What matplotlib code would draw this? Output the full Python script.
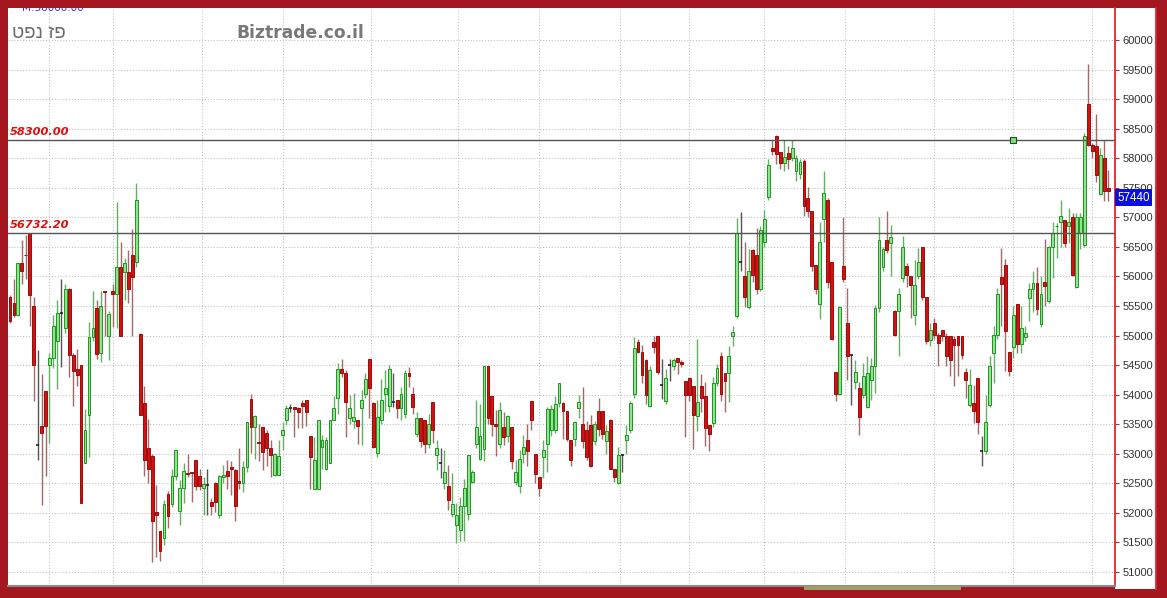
import matplotlib
matplotlib.use("Agg")
import matplotlib.pyplot as plt
from matplotlib.patches import Rectangle
from matplotlib.lines import Line2D
import numpy as np

# ---------------- data ----------------
open_ = [
    55650,55550,55350,56230,56370,56730,55500,53150,53470,54060,
    54510,54620,54900,55390,55120,55780,54670,54430,54510,52840,
    53660,54970,55460,54700,55760,55000,55760,55710,56160,56070,
    56070,56360,56240,55030,53860,53100,52970,52010,
    51700,51570,52320,52150,52620,52030,52430,52670,52700,52900,
    52620,52430,52470,52180,52510,51960,52610,52710,52770,52720,
    52540,52500,52770,53920,53460,53200,53450,53350,53090,52640,
    52640,53320,53580,53770,
    53800,53780,53860,53910,53300,52400,52400,53120,52740,52850,
    53580,53950,54430,54370,53600,53560,53570,53770,54020,54600,
    53860,53010,53570,54020,53810,53880,53910,53770,53680,54360,
    54010,53330,53600,53580,
    53160,53880,52980,52840,52510,52460,51990,51800,51710,52110,
    51990,52530,53160,52920,53080,54480,53970,53500,53170,53450,
    53300,53450,52530,52450,53000,53230,53900,52990,52610,52950,
    53170,53400,53400,53860,
    53860,53730,53230,53250,53780,53500,53400,53480,53210,53720,
    53730,53210,53580,52740,52500,52980,53230,53400,54010,54890,
    54730,54590,53810,54890,54990,54170,53900,54500,54490,54620,
    54550,54240,54280,54150,
    53640,54140,53980,53490,53520,54200,54650,54370,54370,55000,
    55330,56240,56000,55480,56440,56360,55790,56590,57340,58170,
    58380,58100,57920,58090,58000,57790,57730,57960,57320,57110,
    56190,55540,56980,57300,
    56250,54390,54020,56180,55220,54670,54210,54110,54000,53800,
    54250,54480,55460,56160,56610,56560,55410,55410,55970,56170,
    56000,55350,56000,56490,55650,54930,55210,55010,55090,55000,
    54990,54940,54990,54990,54380,
    53820,53860,54290,53040,53040,53830,54710,55010,55990,56200,
    54720,54810,55530,54850,54980,55630,55780,55890,55200,55900,
    55580,56500,56850,56920,56960,56850,57010,55820,56740,56540,
    58910,58230,58200,57400,58000,57500,
]
close = [
    55250,55350,56230,56090,56360,55680,54510,53150,53360,53470,
    54620,55160,55390,55390,55780,54670,54400,54340,52160,53400,
    54970,55120,54680,55500,55730,55370,55710,56160,55000,56230,
    55790,55990,57300,53650,52900,52740,51870,51960,
    51350,52150,51940,52620,53060,52430,52710,52660,52680,52450,
    52460,52490,52470,52120,52190,52630,52640,52620,52740,52110,
    52510,52770,53530,53460,53640,53180,53030,53090,52980,52990,
    52960,53400,53770,53770,
    53750,53710,53810,53710,52940,52900,53580,53230,53240,53580,
    53770,54430,54370,53880,53770,53620,53470,53910,54260,54120,
    53110,53630,53910,54110,54430,53880,53770,54010,54360,54310,
    53800,53600,53220,53170,
    53500,53410,53090,52840,52690,52220,52150,51970,52110,52420,
    52980,52700,53460,53300,54480,53600,53500,53470,53740,53290,
    53640,52880,52700,52910,53110,53040,53570,52660,52420,53060,
    53750,53750,53840,54190,
    53730,53250,52890,53540,53870,53210,52950,52800,53510,53420,
    53340,53380,52750,52610,52980,52980,53320,53860,54790,54730,
    54340,54000,54410,54800,54390,54170,54280,54500,54590,54550,
    54520,54000,54000,53650,
    53880,53940,53430,53340,54200,54450,54010,54240,54660,55060,
    56740,56240,55650,56100,56030,55790,56790,56980,57890,58130,
    58070,57920,58020,57980,58170,58000,57930,57200,57110,56180,
    55780,56580,57420,55900,
    54940,54020,55490,55950,54660,54670,54380,53630,54310,54370,
    54480,55460,56620,56460,56450,56670,55010,55710,56490,56030,
    55860,55860,56250,55650,54900,55100,55010,54880,55000,54650,
    54590,54840,54840,54670,54250,
    54160,53720,53530,53040,53530,54480,55010,55700,55870,55070,
    54400,55350,54850,55120,55040,55780,55890,55450,55700,55840,
    56500,56740,56860,57020,56560,56920,56030,57010,57010,58380,
    58230,58130,57720,58060,57440,57440,
]
high = [
    55680,55950,56230,56620,56700,56730,55650,54750,54350,54060,
    54700,55340,55610,55950,55880,55800,54700,54780,54510,53750,
    55230,55760,55600,55760,55760,55420,55880,57260,56580,56320,
    56440,56810,57580,55050,54150,53590,53000,52470,
    51700,52220,52370,52750,53070,52560,52840,53000,52700,52900,
    52750,52610,52750,52250,52520,52640,52810,52900,52880,52740,
    53100,52870,53540,54020,53660,53500,53450,53400,53230,53010,
    53230,53540,53820,53840,
    53800,53800,53910,53910,53300,53290,53580,53320,53290,53580,
    53980,54530,54610,54420,53990,54030,53570,54080,54370,54600,
    53880,53910,54270,54420,54500,54360,53910,54130,54420,54460,
    54130,53710,53600,53580,
    53680,53880,53230,53090,53060,52810,52670,52160,52270,52570,
    52980,52730,53910,53850,54480,54480,53970,53740,53880,53710,
    53650,53450,52900,53060,53320,53500,53900,52990,52610,53230,
    53800,53820,53970,54190,
    53880,53730,53230,53560,54000,54130,53560,53650,53560,53940,
    53730,53480,53590,52750,53110,53000,53480,53890,54970,54940,
    54840,54610,54490,54990,55000,54610,54440,54600,54620,54620,
    54580,54240,54300,54150,
    54940,54350,54210,53490,54300,54520,54720,54370,54830,55170,
    56990,57090,56580,56470,56470,56820,56860,57130,57990,58300,
    58390,58100,58300,58210,58300,58050,57990,57990,57510,57110,
    56190,56920,57790,57320,
    56250,54390,55500,57010,55800,54690,54590,54210,54530,54650,
    54620,55520,57010,56500,57100,56870,55430,55800,56680,56230,
    56000,56280,56480,56500,55660,55210,55290,55040,55100,55040,
    55000,54990,54990,54990,54450,
    54430,54160,54290,53300,54000,54650,55160,55810,56480,56290,
    54720,55500,55530,55500,55160,55890,56090,56160,56000,56640,
    56510,56920,56900,57300,56960,57160,57080,57080,57080,58420,
    59590,58260,58740,58180,58300,57800,
]
low = [
    55220,55320,55330,55870,55960,55170,53900,52900,52140,52630,
    53180,54450,54090,54470,55050,54300,53810,54140,52160,52840,
    52950,54900,54600,54560,55000,54580,55140,55120,55000,55600,
    55550,55000,56160,53650,52630,52500,51170,51250,
    51180,51460,51740,52100,52550,51800,52160,52600,52190,52390,
    52390,51970,51970,51970,52020,51910,52500,52400,52300,51870,
    52400,52360,52700,53010,52920,52870,52720,52800,52610,52620,
    52640,53060,53480,53700,
    53290,53430,53430,53470,52400,52400,52400,52750,52730,52850,
    53580,53670,54300,53290,53500,53430,53170,53150,53950,53600,
    53100,52950,53500,53710,53700,53800,53600,53580,53600,54130,
    53680,53280,53120,53010,
    53100,53180,52730,52590,52400,52050,51930,51490,51520,51520,
    51880,52500,53100,52900,52870,53500,53300,52960,53100,53150,
    53200,52750,52470,52330,52850,52800,53400,52500,52280,52590,
    52700,53300,53350,53800,
    53250,53220,52800,53140,53600,53100,52900,52780,53150,53300,
    53250,53000,52750,52530,52490,52700,53000,53350,53950,54700,
    54200,53850,53800,54700,54350,53930,53850,54240,54410,54350,
    54460,53280,53900,53080,
    53390,53700,53140,53050,53450,54150,53900,53700,53870,54830,
    55300,56100,55480,55450,55900,55700,55750,56500,57300,58050,
    57900,57820,57790,57820,57950,57620,57650,57020,57000,56100,
    55700,55280,56590,55800,
    54930,53890,54000,55900,54250,53830,54100,53320,53950,53780,
    53910,54030,55400,56100,56400,56000,55000,54660,55900,55830,
    55300,55180,55950,55600,54850,54820,54950,54480,54900,54480,
    54310,54150,54310,54600,53940,
    53800,53520,53330,52790,53000,53800,54200,54950,55160,54400,
    54320,54620,54700,54710,54900,55240,55400,55350,55150,55500,
    55550,55980,56310,56500,56500,56570,56000,55800,56460,56500,
    58200,58000,57600,57380,57270,57270,
]

# month boundaries (in candle index units) for vertical grid lines
month_breaks = [10, 26, 48.5, 69, 91.5, 113.5, 134, 154.5, 172, 191, 211.5, 234, 254, 274]
y_ticks = list(range(51000, 60001, 500))
level_lines = [58300.00, 56732.20]
level_labels = ["58300.00", "56732.20"]
anchor_idx = 254
last_price = 57440
title_he = "טפנ זפ"   # "פז נפט" in visual (left-to-right) order
brand = "Biztrade.co.il"
top_label = "M:58000.00"

# ---------------- figure ----------------
W, H = 1167, 598
border = "#a5171f"
fig = plt.figure(figsize=(W / 100, H / 100), dpi=100, facecolor=border)

def fx(px):
    return px / W

def fy(py):
    return 1 - py / H

ax = fig.add_axes([fx(8), fy(586), fx(1115) - fx(8), fy(8) - fy(586)])
ax.set_facecolor("white")

# white panel for the price scale
fig.patches.append(Rectangle((fx(1115), fy(589)), fx(1156) - fx(1115), fy(8) - fy(589),
                             transform=fig.transFigure, facecolor="white",
                             edgecolor="none", zorder=-1))
fig.lines.append(Line2D([fx(1155.5), fx(1155.5)], [fy(8), fy(589)],
                        transform=fig.transFigure, color="#e0262c", lw=1.3))

n = len(open_)
xs = np.arange(n)
o = np.array(open_, float)
c = np.array(close, float)
h = np.maximum(np.array(high, float), np.maximum(o, c))
l = np.minimum(np.array(low, float), np.minimum(o, c))

up = c > o
down = c < o
doji = c == o

g_fill, g_edge, g_wick = "#8de58d", "#239323", "#62b062"
r_fill, r_edge, r_wick = "#d01212", "#9b0d0d", "#a36a6a"

# wicks
ax.vlines(xs[up], l[up], h[up], color=g_wick, lw=1.0, zorder=2)
ax.vlines(xs[down], l[down], h[down], color=r_wick, lw=1.0, zorder=2)
ax.vlines(xs[doji], l[doji], h[doji], color="#555555", lw=1.0, zorder=2)

bw = 0.72
ax.bar(xs[up], (c - o)[up], bottom=o[up], width=bw, color=g_fill,
       edgecolor=g_edge, linewidth=0.7, zorder=3)
ax.bar(xs[down], (o - c)[down], bottom=c[down], width=bw, color=r_fill,
       edgecolor=r_edge, linewidth=0.7, zorder=3)
ax.hlines(c[doji], xs[doji] - bw / 2, xs[doji] + bw / 2, color="#222222", lw=1.2, zorder=3)

# horizontal level lines
for lv, lab in zip(level_lines, level_labels):
    ax.axhline(lv, color="#555555", lw=1.0, zorder=4)
    ax.annotate(lab, xy=(0.002, lv), xycoords=("axes fraction", "data"),
                xytext=(0, 2.5), textcoords="offset points", ha="left", va="bottom",
                color="#e01010", fontsize=8.2, fontweight="bold", fontstyle="italic",
                family=["DejaVu Sans"], zorder=5)

ax.plot([anchor_idx], [level_lines[0]], marker="s", markersize=4.5,
        markerfacecolor="#7ee07e", markeredgecolor="#1f4f1f", markeredgewidth=0.8,
        zorder=6, clip_on=False)

# limits (candle 1 at px 10, spacing ~3.95 px)
ax.set_xlim(-0.5, 279.75)
ax.set_ylim(50764, 60541)

# grid
ax.set_axisbelow(True)
ax.set_xticks(month_breaks)
ax.set_yticks(y_ticks)
ax.grid(True, color="#c4c4c4", linestyle=(0, (1, 1.6)), lw=0.8)
ax.tick_params(axis="x", length=0, labelbottom=False)
ax.yaxis.tick_right()
ax.tick_params(axis="y", direction="out", length=3, color="#d02020", width=0.8,
               pad=2.2, labelsize=8, labelcolor="#333333")
for t in ax.get_yticklabels():
    t.set_family(["Liberation Sans", "DejaVu Sans"])

for s in ["left", "top"]:
    ax.spines[s].set_visible(False)
ax.spines["right"].set_color("#e0262c")
ax.spines["right"].set_linewidth(1.3)
ax.spines["bottom"].set_color("#8a8a8a")
ax.spines["bottom"].set_linewidth(1.5)

# last price tag (drawn just below the price level, as in the source)
ax.annotate(str(last_price), xy=(1.0, last_price), xycoords=("axes fraction", "data"),
            xytext=(1.6, -4.6), textcoords="offset points", ha="left", va="center",
            color="white", fontsize=8.4, annotation_clip=False,
            family=["Liberation Sans", "DejaVu Sans"], zorder=10,
            bbox=dict(boxstyle="square,pad=0.2", facecolor="#0a0fe0", edgecolor="none"))

# scroll bar thumb at the bottom
fig.patches.append(Rectangle((fx(804), fy(589.5)), fx(961) - fx(804), fy(586) - fy(589.5),
                             transform=fig.transFigure, facecolor="#a39c6a",
                             edgecolor="none", zorder=5))

# header texts
ax.text((fx(22) - fx(8)) / (fx(1115) - fx(8)), 1.0, top_label,
        transform=ax.transAxes, ha="left", va="center", color="#3a3ac0",
        fontsize=7.5, clip_on=True, zorder=7)
fig.text(fx(12), fy(34), title_he, ha="left", va="center", color="#6c6c6c",
         fontsize=13.5, family=["Liberation Sans", "DejaVu Sans"])
fig.text(fx(236), fy(33), brand, ha="left", va="center", color="#787878",
         fontsize=12.3, fontweight="bold", family=["DejaVu Sans"])

fig.savefig("out.png", dpi=100, facecolor=border)
